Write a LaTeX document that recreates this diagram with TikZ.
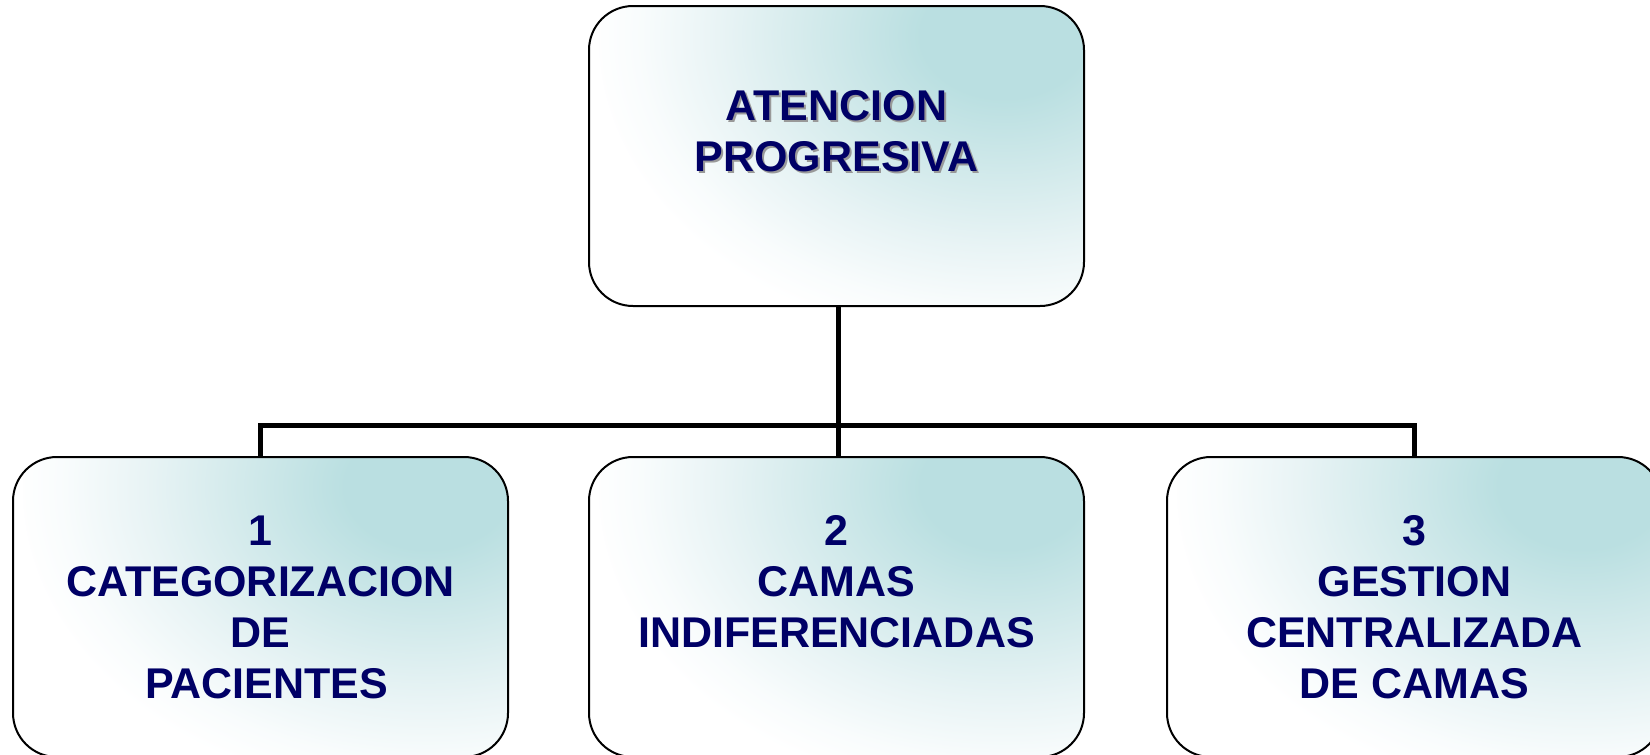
\documentclass[tikz,border=0pt]{standalone}
\usepackage{fontspec}
\setmainfont{Liberation Sans}
\definecolor{navy}{RGB}{0,0,102}
\pgfdeclareradialshading{boxglow}{\pgfpoint{0bp}{0bp}}{rgb(0bp)=(0.729,0.875,0.882); rgb(5bp)=(0.729,0.875,0.882); rgb(11bp)=(0.82,0.915,0.92); rgb(17bp)=(0.91,0.955,0.96); rgb(22bp)=(0.975,0.988,0.99); rgb(25bp)=(1,1,1); rgb(50bp)=(1,1,1)}
\begin{document}
\begin{tikzpicture}[x=1pt,y=-1pt,
  box/.style={draw=black, line width=2pt, rounded corners=44pt,
    minimum width=495pt, minimum height=300pt, inner sep=0pt, fill=white,
    path picture={\shade[shading=boxglow]
      ([xshift=-75pt,yshift=-30pt]path picture bounding box.north east)
      ellipse [x radius=410pt, y radius=310pt];}},
  boxtext/.style={font=\fontsize{43}{51}\selectfont\bfseries, text=navy,
    align=center, inner sep=0pt, anchor=north},
  conn/.style={line width=5pt}]
\useasboundingbox (0,0) rectangle (1650,755);

\coordinate (bus) at (838,425);

\node[box] (top) at (836.5,156) {};
\node[box] (b1) at (260.5,607) {};
\node[box] (b2) at (836.5,607) {};
\node[box] (b3) at (1414.5,607) {};

\draw[conn] (top.south -| bus) -- (bus);
\draw[conn] (b1.north) |- (bus) -| (b3.north);
\draw[conn] (bus) -- (b2.north -| bus);

\node[boxtext, text=gray!80] (ttlsh) at (838.5,92.5) {ATENCION\\PROGRESIVA};
\node[boxtext] (ttl) at (836.5,90.5) {ATENCION\\PROGRESIVA};

\node[boxtext] (t1) at (260.5,515.5) {1\\CATEGORIZACION\\DE\\\hspace*{0.28em}PACIENTES};
\node[boxtext] (t2) at (836.5,515.5) {2\\CAMAS\\INDIFERENCIADAS};
\node[boxtext] (t3) at (1414.5,515.5) {3\\GESTION\\CENTRALIZADA\\DE CAMAS};
\end{tikzpicture}
\end{document}
